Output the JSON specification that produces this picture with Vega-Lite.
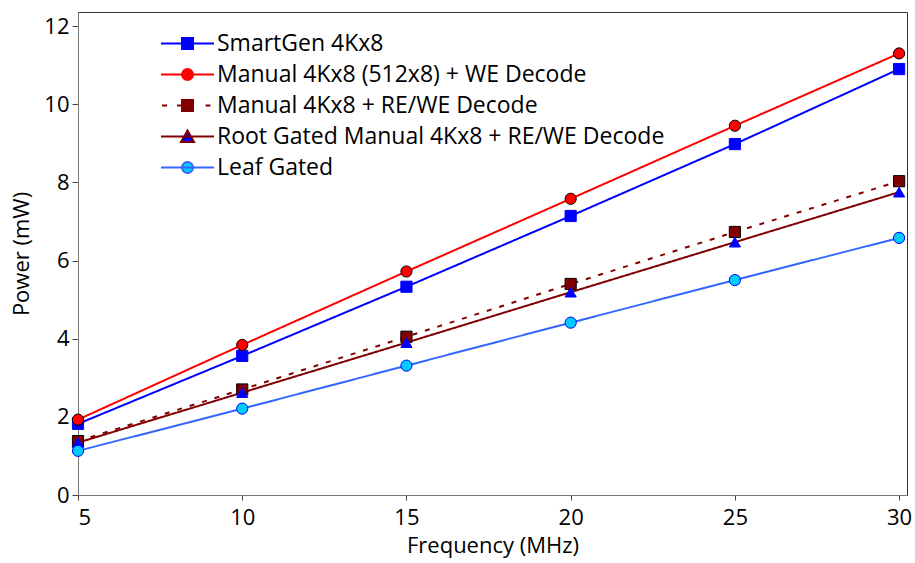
{
  "$schema": "https://vega.github.io/schema/vega-lite/v6.json",
  "autosize": "none",
  "width": 829,
  "height": 483,
  "padding": {"left": 78, "top": 12, "right": 8, "bottom": 68},
  "background": "white",
  "config": {
    "font": "Open Sans",
    "view": {"stroke": "#333333", "strokeWidth": 1},
    "axis": {"grid": false, "labelFontSize": 22, "titleFontSize": 22, "titleFontWeight": "normal", "labelColor": "#000000", "titleColor": "#000000", "domainColor": "#777777", "tickColor": "#444444", "labelFont": "Open Sans", "titleFont": "Open Sans"}
  },
  "data": {
    "values": [
      {"freq": 5, "power": 1.82, "series": "SmartGen 4Kx8"},
      {"freq": 10, "power": 3.56, "series": "SmartGen 4Kx8"},
      {"freq": 15, "power": 5.33, "series": "SmartGen 4Kx8"},
      {"freq": 20, "power": 7.14, "series": "SmartGen 4Kx8"},
      {"freq": 25, "power": 8.98, "series": "SmartGen 4Kx8"},
      {"freq": 30, "power": 10.9, "series": "SmartGen 4Kx8"},
      {"freq": 5, "power": 1.93, "series": "Manual 4Kx8 (512x8) + WE Decode"},
      {"freq": 10, "power": 3.84, "series": "Manual 4Kx8 (512x8) + WE Decode"},
      {"freq": 15, "power": 5.72, "series": "Manual 4Kx8 (512x8) + WE Decode"},
      {"freq": 20, "power": 7.58, "series": "Manual 4Kx8 (512x8) + WE Decode"},
      {"freq": 25, "power": 9.45, "series": "Manual 4Kx8 (512x8) + WE Decode"},
      {"freq": 30, "power": 11.3, "series": "Manual 4Kx8 (512x8) + WE Decode"},
      {"freq": 5, "power": 1.38, "series": "Manual 4Kx8 + RE/WE Decode"},
      {"freq": 10, "power": 2.7, "series": "Manual 4Kx8 + RE/WE Decode"},
      {"freq": 15, "power": 4.05, "series": "Manual 4Kx8 + RE/WE Decode"},
      {"freq": 20, "power": 5.4, "series": "Manual 4Kx8 + RE/WE Decode"},
      {"freq": 25, "power": 6.73, "series": "Manual 4Kx8 + RE/WE Decode"},
      {"freq": 30, "power": 8.03, "series": "Manual 4Kx8 + RE/WE Decode"},
      {"freq": 5, "power": 1.34, "series": "Root Gated Manual 4Kx8 + RE/WE Decode"},
      {"freq": 10, "power": 2.62, "series": "Root Gated Manual 4Kx8 + RE/WE Decode"},
      {"freq": 15, "power": 3.9, "series": "Root Gated Manual 4Kx8 + RE/WE Decode"},
      {"freq": 20, "power": 5.19, "series": "Root Gated Manual 4Kx8 + RE/WE Decode"},
      {"freq": 25, "power": 6.47, "series": "Root Gated Manual 4Kx8 + RE/WE Decode"},
      {"freq": 30, "power": 7.75, "series": "Root Gated Manual 4Kx8 + RE/WE Decode"},
      {"freq": 5, "power": 1.13, "series": "Leaf Gated"},
      {"freq": 10, "power": 2.21, "series": "Leaf Gated"},
      {"freq": 15, "power": 3.31, "series": "Leaf Gated"},
      {"freq": 20, "power": 4.41, "series": "Leaf Gated"},
      {"freq": 25, "power": 5.5, "series": "Leaf Gated"},
      {"freq": 30, "power": 6.58, "series": "Leaf Gated"}
    ]
  },
  "encoding": {
    "x": {"field": "freq", "type": "quantitative", "title": "Frequency (MHz)",
      "scale": {"domain": [5, 30.24], "nice": false, "zero": false},
      "axis": {"values": [5, 10, 15, 20, 25, 30], "tickSize": 5, "labelPadding": 7, "titlePadding": 7}},
    "y": {"field": "power", "type": "quantitative", "title": "Power (mW)",
      "scale": {"domain": [0, 12.36], "nice": false},
      "axis": {"values": [0, 2, 4, 6, 8, 10, 12], "tickSize": 6, "labelPadding": 3, "titlePadding": 10}}
  },
  "layer": [
    {
      "mark": {"type": "line", "strokeWidth": 2},
      "encoding": {
        "stroke": {"field": "series", "type": "nominal",
          "scale": {"domain": ["SmartGen 4Kx8", "Manual 4Kx8 (512x8) + WE Decode", "Manual 4Kx8 + RE/WE Decode", "Root Gated Manual 4Kx8 + RE/WE Decode", "Leaf Gated"],
                    "range": ["#0000ff", "#ff0000", "#800000", "#800000", "#3366ff"]},
          "legend": {
            "title": null, "orient": "none", "legendX": 98, "legendY": 20,
            "symbolSize": 100, "symbolStrokeWidth": 2, "labelFontSize": 23, "labelFont": "Open Sans", "labelColor": "#000000",
            "labelOffset": 18, "rowPadding": 7, "labelLimit": 700,
            "encode": {"symbols": {"update": {
              "shape": {"signal": "['M-5.3,0H5.3M-1.1,-1.1H1.1V1.1H-1.1Z', 'M-5.3,0H5.3M1.1,0A1.1,1.1,0,1,1,-1.1,0A1.1,1.1,0,1,1,1.1,0Z', 'M-5.1,0H-4.1M-2.1,0H-1.1M3.6,0H4.6M-1.1,-1.1H1.1V1.1H-1.1Z', 'M-5.3,0H5.3M0,-1.2L1.3,1.1H-1.3Z', 'M-5.3,0H5.3M1.1,0A1.1,1.1,0,1,1,-1.1,0A1.1,1.1,0,1,1,1.1,0Z'][datum.index]"},
              "fill": {"signal": "['#0000ff', '#ff0000', '#800000', '#0000ff', '#00ccff'][datum.index]"},
              "strokeWidth": {"value": 2}
            }}}
          }},
        "strokeDash": {"field": "series", "type": "nominal",
          "scale": {"domain": ["SmartGen 4Kx8", "Manual 4Kx8 (512x8) + WE Decode", "Manual 4Kx8 + RE/WE Decode", "Root Gated Manual 4Kx8 + RE/WE Decode", "Leaf Gated"],
                    "range": [[1, 0], [1, 0], [5, 8], [1, 0], [1, 0]]},
          "legend": null},
        "strokeWidth": {"field": "series", "type": "nominal",
          "scale": {"domain": ["SmartGen 4Kx8", "Manual 4Kx8 (512x8) + WE Decode", "Manual 4Kx8 + RE/WE Decode", "Root Gated Manual 4Kx8 + RE/WE Decode", "Leaf Gated"],
                    "range": [2, 2, 3, 2, 2]},
          "legend": null}
      }
    },
    {
      "mark": {"type": "point", "filled": true, "opacity": 1, "strokeWidth": 1},
      "encoding": {
        "shape": {"field": "series", "type": "nominal",
          "scale": {"domain": ["SmartGen 4Kx8", "Manual 4Kx8 (512x8) + WE Decode", "Manual 4Kx8 + RE/WE Decode", "Root Gated Manual 4Kx8 + RE/WE Decode", "Leaf Gated"],
                    "range": ["square", "circle", "square", "triangle-up", "circle"]},
          "legend": null},
        "fill": {"field": "series", "type": "nominal",
          "scale": {"domain": ["SmartGen 4Kx8", "Manual 4Kx8 (512x8) + WE Decode", "Manual 4Kx8 + RE/WE Decode", "Root Gated Manual 4Kx8 + RE/WE Decode", "Leaf Gated"],
                    "range": ["#0000ff", "#ff0000", "#800000", "#0000ff", "#00ccff"]},
          "legend": null},
        "stroke": {"field": "series", "type": "nominal",
          "scale": {"domain": ["SmartGen 4Kx8", "Manual 4Kx8 (512x8) + WE Decode", "Manual 4Kx8 + RE/WE Decode", "Root Gated Manual 4Kx8 + RE/WE Decode", "Leaf Gated"],
                    "range": ["#0000ff", "#000000", "#000000", "#0000ff", "#0000ff"]},
          "legend": null},
        "size": {"value": 125}
      }
    }
  ],
  "resolve": {"scale": {"stroke": "independent"}}
}
